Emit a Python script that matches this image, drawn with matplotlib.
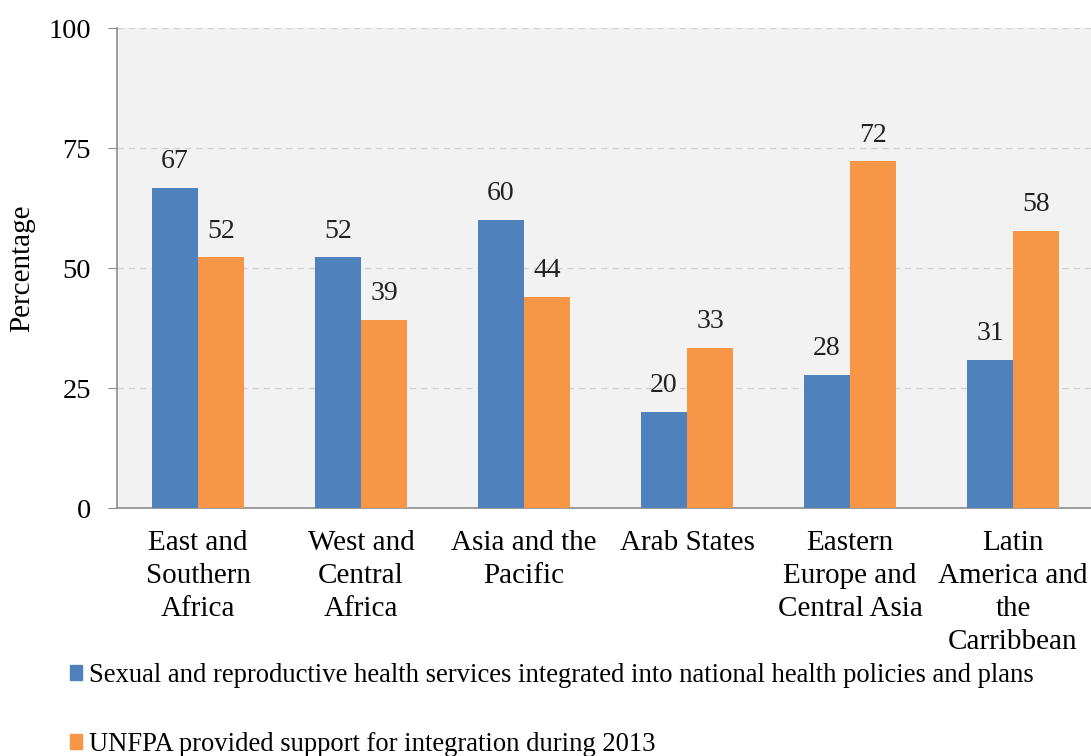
import numpy as np
import matplotlib.pyplot as plt
from matplotlib.patches import Patch

categories = ["East and\nSouthern\nAfrica", "West and\nCentral\nAfrica", "Asia and the\nPacific",
              "Arab States", "Eastern\nEurope and\nCentral Asia", "Latin\nAmerica and\nthe\nCarribbean"]
integrated = [66.7, 52.2, 60.0, 20.0, 27.8, 30.8]
supported = [52.2, 39.1, 44.0, 33.3, 72.2, 57.7]
series_names = ["Sexual and reproductive health services integrated into national health policies and plans",
                "UNFPA provided support for integration during 2013"]

blue = "#4F81BD"
orange = "#F79646"

plt.rcParams["font.family"] = ["Liberation Serif", "DejaVu Serif"]

fig = plt.figure(figsize=(10.91, 7.56), dpi=100)
ax = fig.add_axes([116.5 / 1091, 1 - 508 / 756, 978 / 1091, 480 / 756])
ax.set_facecolor("#F2F2F2")

x = np.arange(len(categories))
w = 0.282
b1 = ax.bar(x - w / 2, integrated, w, color=blue, zorder=3)
b2 = ax.bar(x + w / 2, supported, w, color=orange, zorder=3)

for bars, vals in [(b1, integrated), (b2, supported)]:
    for rect, v in zip(bars, vals):
        ax.annotate(f"{v:.0f}", (rect.get_x() + rect.get_width() / 2, v),
                    xytext=(0, 19), textcoords="offset points",
                    ha="center", va="center", fontsize=20, color="#222222")

ax.set_xlim(-0.5, len(categories) - 0.5)
ax.set_ylim(0, 100)
ax.set_yticks([0, 25, 50, 75, 100])
ax.yaxis.grid(True, linestyle=(0, (5, 4)), color="#D0D0D0", linewidth=0.9, zorder=0)
ax.set_xticks(x)
ax.set_xticklabels(categories, fontsize=21, linespacing=1.34, va="top")
ax.tick_params(axis="x", length=0, pad=16)
ax.tick_params(axis="y", length=6.5, color="#8C8C8C", labelsize=20.5, pad=12)
for s in ["top", "right"]:
    ax.spines[s].set_visible(False)
for s in ["left", "bottom"]:
    ax.spines[s].set_color("#8C8C8C")
    ax.spines[s].set_linewidth(1.2)
ax.set_ylabel("Percentage", fontsize=21, labelpad=9)

handles = [Patch(color=blue), Patch(color=orange)]
fig.legend(handles, series_names, loc="upper left", bbox_to_anchor=(70 / 1091, 1 - 663 / 756),
           frameon=False, fontsize=19.2, handlelength=0.45, handleheight=0.45,
           handletextpad=0.25, labelspacing=1.65, borderpad=0, borderaxespad=0)

fig.savefig("out.png", dpi=100)
